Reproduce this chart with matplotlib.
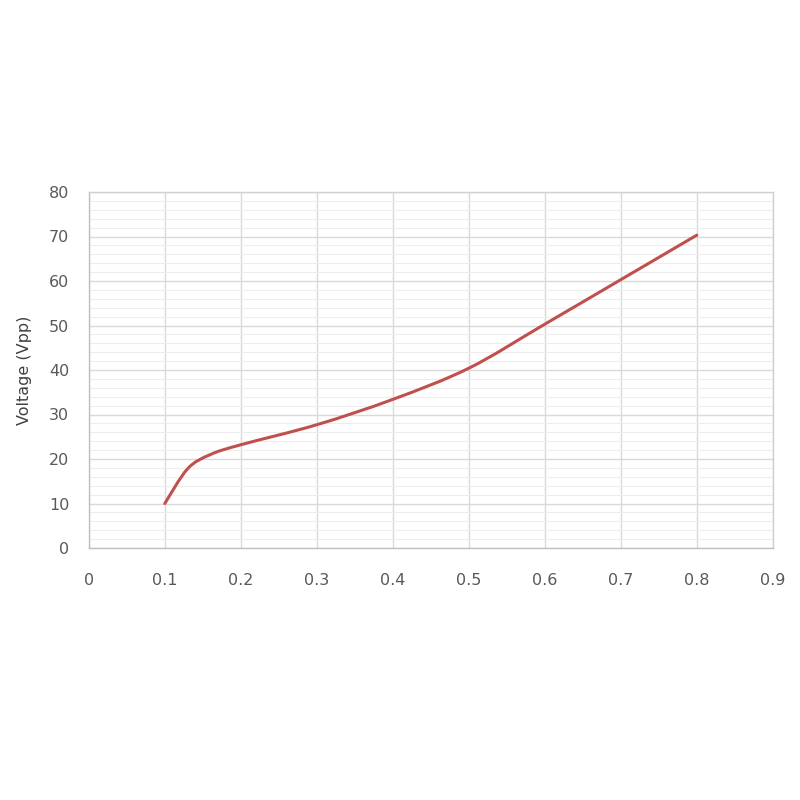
import numpy as np
import matplotlib
matplotlib.use("Agg")
from matplotlib import pyplot as plt
from matplotlib.path import Path
from matplotlib.patches import PathPatch

current = [0.1, 0.13, 0.16, 0.2, 0.3, 0.4, 0.5, 0.6, 0.7, 0.8]
voltage = [10.0, 17.8, 21.0, 23.2, 27.7, 33.4, 40.4, 50.3, 60.3, 70.3]

x_ticks = [0, 0.1, 0.2, 0.3, 0.4, 0.5, 0.6, 0.7, 0.8, 0.9]
x_labels = ["0", "0.1", "0.2", "0.3", "0.4", "0.5", "0.6", "0.7", "0.8", "0.9"]
y_ticks = [0, 10, 20, 30, 40, 50, 60, 70, 80]

LINE_COLOR = "#c0504d"
TEXT_COLOR = "#595959"


def smooth_path(xs, ys):
    # excel style smoothed line: cubic bezier through every point
    pts = np.column_stack([xs, ys])
    n = len(pts)
    verts = [pts[0]]
    codes = [Path.MOVETO]
    for i in range(n - 1):
        p0 = pts[i - 1] if i > 0 else pts[i]
        p1 = pts[i]
        p2 = pts[i + 1]
        p3 = pts[i + 2] if i + 2 < n else pts[i + 1]
        c1 = p1 + (p2 - p0) / 6.0
        c2 = p2 - (p3 - p1) / 6.0
        verts.extend([c1, c2, p2])
        codes.extend([Path.CURVE4] * 3)
    return Path(verts, codes)


fig = plt.figure(figsize=(8, 8), dpi=100)
ax = fig.add_axes([0.111, 0.315, 0.855, 0.445])

ax.set_xlim(0, 0.9)
ax.set_ylim(0, 80)
ax.set_xticks(x_ticks)
ax.set_xticklabels(x_labels)
ax.set_yticks(y_ticks)
ax.set_yticks(np.arange(0, 81, 2), minor=True)

ax.grid(True, which="major", color="#d9d9d9", linewidth=1.0)
ax.grid(True, which="minor", axis="y", color="#ededed", linewidth=0.8)
ax.set_axisbelow(True)

for side, spine in ax.spines.items():
    spine.set_color("#d0d0d0")
    spine.set_linewidth(1.0)
ax.spines["left"].set_color("#bfbfbf")
ax.spines["bottom"].set_color("#bfbfbf")

ax.tick_params(which="both", length=0)
ax.tick_params(axis="x", pad=18, labelsize=11.5, labelcolor=TEXT_COLOR)
ax.tick_params(axis="y", pad=14, labelsize=11.5, labelcolor=TEXT_COLOR)

patch = PathPatch(smooth_path(current, voltage), facecolor="none",
                  edgecolor=LINE_COLOR, linewidth=2.2, capstyle="round")
ax.add_patch(patch)

ax.set_ylabel("Voltage (Vpp)", fontsize=11.5, color="#404040", labelpad=12)

fig.savefig("out.png", dpi=100, facecolor="white")
